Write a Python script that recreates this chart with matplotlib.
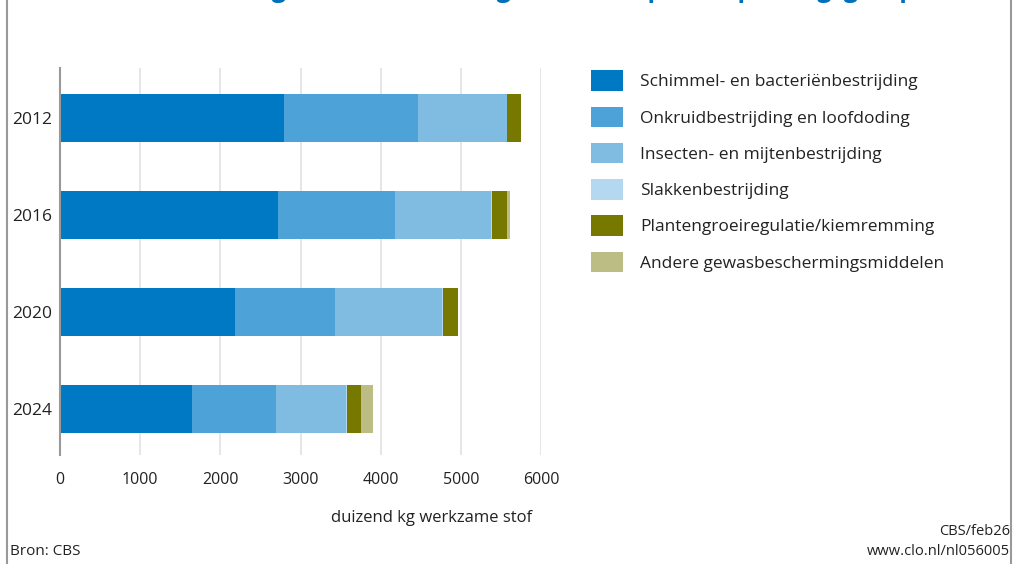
import matplotlib
matplotlib.use('Agg')
from matplotlib import pyplot as plt
from matplotlib.lines import Line2D
from matplotlib.patches import Patch
import numpy as np

plt.rcParams['font.family'] = ['Open Sans', 'DejaVu Sans']

years = ['2012', '2016', '2020', '2024']
categories = ['Schimmel- en bacteriënbestrijding',
              'Onkruidbestrijding en loofdoding',
              'Insecten- en mijtenbestrijding',
              'Slakkenbestrijding',
              'Plantengroeiregulatie/kiemremming',
              'Andere gewasbeschermingsmiddelen']
schimmel = [2790, 2720, 2185, 1650]
onkruid = [1680, 1460, 1250, 1045]
insecten = [1100, 1200, 1335, 875]
slakken = [5, 5, 5, 5]
groei = [170, 190, 185, 185]
andere = [10, 40, 10, 140]
series = [schimmel, onkruid, insecten, slakken, groei, andere]
colors = ['#0079C5', '#4DA3D7', '#80BCE2', '#B3D8F0', '#767800', '#BBBD85']

fig = plt.figure(figsize=(10.16, 5.64), dpi=100)
ax = fig.add_axes([0.0591, 0.1933, 0.4734, 0.6861])

y_pos = np.arange(len(years))
left = np.zeros(len(years))
for vals, col in zip(series, colors):
    ax.barh(y_pos, vals, left=left, height=0.5, color=col, zorder=3)
    left += np.array(vals)

ax.set_xlim(0, 6000)
ax.set_ylim(3.474, -0.515)
ax.set_xticks(np.arange(0, 7000, 1000))
ax.set_yticks(y_pos)
ax.set_yticklabels(years)
ax.tick_params(axis='x', length=0, pad=12, labelsize=11.5, colors='#222222')
ax.tick_params(axis='y', length=0, pad=6, labelsize=12.5, colors='#222222')
ax.grid(axis='x', color='#E2E2E2', linewidth=1.2, zorder=0)
for s in ['top', 'right', 'bottom']:
    ax.spines[s].set_visible(False)
ax.spines['left'].set_color('#999999')
ax.spines['left'].set_linewidth(1.5)
ax.spines['left'].set_zorder(4)
ax.set_xlabel('duizend kg werkzame stof', fontsize=12, color='#222222')
ax.xaxis.set_label_coords(0.773, -0.142)

handles = [Patch(facecolor=c, edgecolor='none') for c in colors]
fig.legend(handles, categories, loc='upper left', bbox_to_anchor=(0.566, 0.903),
           frameon=False, fontsize=12.5, handlelength=1.85, handleheight=1.45,
           handletextpad=1.0, labelspacing=0.9, labelcolor='#222222')

# title, mostly cut off at the top edge
fig.text(0.06, 1.005, 'Afzet chemische gewasbeschermingsmiddelen per toepassingsgroep',
         fontsize=18, color='#0070BA', fontweight='bold', va='baseline')

fig.text(0.010, 0.016, 'Bron: CBS', fontsize=11, color='#222222')
fig.text(0.994, 0.052, 'CBS/feb26', fontsize=10.5, color='#222222', ha='right')
fig.text(0.994, 0.016, 'www.clo.nl/nl056005', fontsize=10.5, color='#222222', ha='right')

fig.add_artist(Line2D([0.007, 0.007], [0, 1], transform=fig.transFigure,
                      color='#999999', linewidth=1.5))
fig.add_artist(Line2D([0.995, 0.995], [0, 1], transform=fig.transFigure,
                      color='#999999', linewidth=1.5))

fig.savefig('out.png', dpi=100)
